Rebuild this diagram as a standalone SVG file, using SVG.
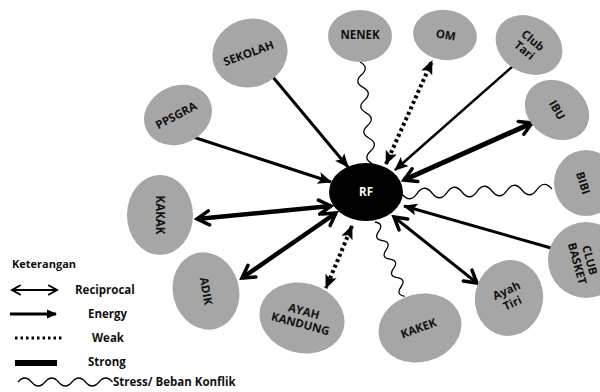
<svg xmlns="http://www.w3.org/2000/svg" width="600" height="392" viewBox="0 0 600 392">
<defs>
<style>
.node{fill:#a6a6a6}
.lbl{font-family:"Open Sans","DejaVu Sans",sans-serif;font-weight:bold;font-size:11.5px;fill:#111;text-anchor:middle}
.leg{font-family:"Open Sans","DejaVu Sans",sans-serif;font-weight:bold;font-size:11.5px;fill:#111}
.e{stroke:#000;fill:none}
.wave{stroke:#000;fill:none;stroke-width:1.3}
.dot{stroke-dasharray:3 3}
</style>
<marker id="tri" markerUnits="userSpaceOnUse" markerWidth="14" markerHeight="14" refX="13" refY="7" orient="auto-start-reverse" viewBox="0 0 14 14">
<path d="M0,1 L14,7 L0,13 L3,7 z" fill="#000"/>
</marker>
<marker id="chev" markerUnits="userSpaceOnUse" markerWidth="18" markerHeight="18" refX="15" refY="9" orient="auto-start-reverse" viewBox="0 0 18 18">
<path d="M3,2 L15,9 L3,16" fill="none" stroke="#000" stroke-width="3.5" stroke-linecap="round" stroke-linejoin="miter"/>
</marker>
<marker id="chevs" markerUnits="userSpaceOnUse" markerWidth="12" markerHeight="12" refX="10" refY="6" orient="auto-start-reverse" viewBox="0 0 12 12">
<path d="M2,1.5 L10,6 L2,10.5" fill="none" stroke="#000" stroke-width="2" stroke-linecap="round"/>
</marker>
<marker id="trismall" markerUnits="userSpaceOnUse" markerWidth="10" markerHeight="10" refX="9" refY="5" orient="auto" viewBox="0 0 10 10">
<path d="M0,0.5 L10,5 L0,9.5 z" fill="#000"/>
</marker>
</defs>
<rect width="600" height="392" fill="#fff"/>

<g id="connectors">
<path class="e" d="M272,76 L348,167" stroke-width="3" marker-end="url(#tri)"/>
<path class="e" d="M193,137 L331,182" stroke-width="3" marker-end="url(#tri)"/>
<path class="e dot" d="M386,164 L432,61" stroke-width="4" marker-start="url(#tri)" marker-end="url(#tri)"/>
<path class="e" d="M513,66 L395,170" stroke-width="2.5" marker-end="url(#tri)"/>
<path class="e" d="M404,180 L532,123" stroke-width="5" marker-start="url(#chev)" marker-end="url(#chev)"/>
<path class="e" d="M551,248 L404,206" stroke-width="3" marker-end="url(#tri)"/>
<path class="e" d="M394,217 L477,283" stroke-width="3" marker-start="url(#chev)" marker-end="url(#chev)"/>
<path class="e dot" d="M352,226 L326,288" stroke-width="4" marker-start="url(#tri)" marker-end="url(#tri)"/>
<path class="e" d="M336,213 L242,278" stroke-width="4.5" marker-start="url(#chev)" marker-end="url(#chev)"/>
<path class="e" d="M331,206 L197,219" stroke-width="4.5" marker-start="url(#chev)" marker-end="url(#chev)"/>
<g transform="translate(360,62) rotate(83.2)"><path class="wave" d="M0,0 q6.4,-9 12.8,0 t12.8,0 t12.8,0 t12.8,0 t12.8,0 t12.8,0 t12.8,0 t12.8,0"/></g>
<g transform="translate(375,222) rotate(68.2)"><path class="wave" d="M0,0 q5,-8 10,0 t10,0 t10,0 t10,0 t10,0 t10,0 t10,0 t10,0"/></g>
<g transform="translate(402,194) rotate(-1.9)"><path class="wave" d="M0,0 q7.5,10 15,0 t15,0 t15,0 t15,0 t15,0 t15,0 t15,0 t15,0 t15,0 t15,0"/></g>
</g>

<g id="RF"><ellipse cx="366" cy="192" rx="37" ry="29" fill="#000"/><text class="lbl" x="366" y="196" style="fill:#fff">RF</text></g>
<g id="SEKOLAH"><ellipse class="node" cx="250" cy="53" rx="38" ry="34" transform="rotate(-20 250 53)"/><text class="lbl" transform="translate(250,57) rotate(-20)">SEKOLAH</text></g>
<g id="PPSGRA"><ellipse class="node" cx="178" cy="115" rx="35" ry="29" transform="rotate(-25 178 115)"/><text class="lbl" transform="translate(178,119) rotate(-28)">PPSGRA</text></g>
<g id="NENEK"><ellipse class="node" cx="360" cy="36" rx="32" ry="26"/><text class="lbl" x="360" y="39">NENEK</text></g>
<g id="OM"><ellipse class="node" cx="445" cy="35" rx="32" ry="25" transform="rotate(8 445 35)"/><text class="lbl" transform="translate(445,39) rotate(10)">OM</text></g>
<g id="ClubTari"><ellipse class="node" cx="529" cy="45" rx="35" ry="28" transform="rotate(30 529 45)"/><text class="lbl" transform="translate(529,45) rotate(40)"><tspan x="0" y="-2">Club</tspan><tspan x="0" y="11">Tari</tspan></text></g>
<g id="IBU"><ellipse class="node" cx="557" cy="110" rx="34" ry="28" transform="rotate(35 557 110)"/><text class="lbl" transform="translate(557,110) rotate(60)" y="4">IBU</text></g>
<g id="BIBI"><ellipse class="node" cx="586" cy="183" rx="32" ry="33"/><text class="lbl" transform="translate(583,183) rotate(72)" y="4">BIBI</text></g>
<g id="CLUBBASKET"><ellipse class="node" cx="586" cy="260" rx="38" ry="38"/><text class="lbl" transform="translate(583,262) rotate(75)"><tspan x="0" y="-3">CLUB</tspan><tspan x="0" y="10">BASKET</tspan></text></g>
<g id="AyahTiri"><ellipse class="node" cx="509" cy="298" rx="34" ry="38" transform="rotate(10 509 298)"/><text class="lbl" transform="translate(509,296) rotate(-25)"><tspan x="0" y="-2">Ayah</tspan><tspan x="0" y="12">Tiri</tspan></text></g>
<g id="KAKEK"><ellipse class="node" cx="420" cy="328" rx="42" ry="34" transform="rotate(-15 420 328)"/><text class="lbl" transform="translate(420,332) rotate(-20)">KAKEK</text></g>
<g id="AYAHKANDUNG"><ellipse class="node" cx="302" cy="318" rx="43" ry="35" transform="rotate(15 302 318)"/><text class="lbl" transform="translate(302,318) rotate(15)"><tspan x="0" y="-3">AYAH</tspan><tspan x="0" y="10">KANDUNG</tspan></text></g>
<g id="ADIK"><ellipse class="node" cx="206" cy="291" rx="33" ry="39" transform="rotate(-15 206 291)"/><text class="lbl" transform="translate(206,291) rotate(80)" y="4">ADIK</text></g>
<g id="KAKAK"><ellipse class="node" cx="160" cy="215" rx="33" ry="40"/><text class="lbl" transform="translate(160,215) rotate(90)" y="4">KAKAK</text></g>

<g id="legend">
<text class="leg" x="12" y="268" style="font-size:11px">Keterangan</text>
<path class="e" d="M12,290 L57,290" stroke-width="2" marker-start="url(#chevs)" marker-end="url(#chevs)"/>
<text class="leg" x="75" y="294">Reciprocal</text>
<path class="e" d="M10,314 L56,314" stroke-width="2.8" marker-end="url(#trismall)"/>
<text class="leg" x="88" y="318">Energy</text>
<path class="e" d="M15,338 L62,338" stroke-width="3" stroke-dasharray="2.5 3"/>
<text class="leg" x="92" y="342">Weak</text>
<rect x="15" y="360" width="42" height="6" fill="#000"/>
<text class="leg" x="88" y="366">Strong</text>
<path class="wave" d="M18,382 q6.75,-8 13.5,0 t13.5,0 t13.5,0 t13.5,0 t13.5,0 t13.5,0 t13.5,0"/>
<text class="leg" x="113" y="386">Stress/ Beban Konflik</text>
</g>
</svg>
